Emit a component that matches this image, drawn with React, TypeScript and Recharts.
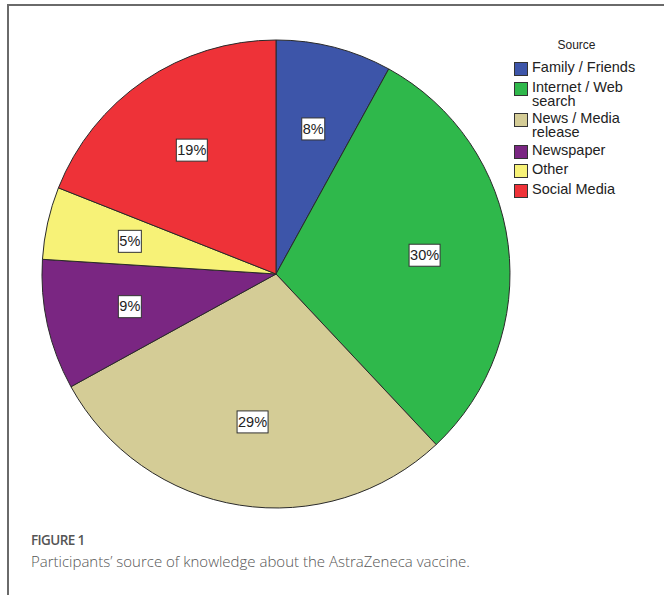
import { Legend, Pie, PieChart } from "recharts";

const SOURCES = [
  "Family / Friends",
  "Internet / Web search",
  "News / Media release",
  "Newspaper",
  "Other",
  "Social Media",
];
const SHARES = [8, 30, 29, 9, 5, 19];
const COLORS = ["#3d55a9", "#2fb84b", "#d4cc96", "#7a2682", "#f7f277", "#ee3238"];

const RAD = Math.PI / 180;

function SliceLabel({ cx, cy, midAngle, outerRadius, value }: any) {
  const r = outerRadius * 0.64;
  const x = cx + r * Math.cos(-midAngle * RAD);
  const y = cy + r * Math.sin(-midAngle * RAD);
  const txt = `${value}%`;
  const w = txt.length * 8 + 7;
  const h = 22;
  return (
    <g>
      <rect x={x - w / 2} y={y - h / 2} width={w} height={h} fill="#fff" stroke="#333" strokeWidth={1} />
      <text
        x={x}
        y={y + 1}
        textAnchor="middle"
        dominantBaseline="middle"
        fontFamily="'Liberation Sans', Arial, sans-serif"
        fontSize={14.5}
        fill="#222"
      >
        {txt}
      </text>
    </g>
  );
}

function SourceLegend() {
  return (
    <div style={{ fontFamily: "'Liberation Sans', Arial, sans-serif", color: "#222" }}>
      <div style={{ fontSize: 12, textAlign: "center", width: 125, marginBottom: 8 }}>Source</div>
      {SOURCES.map((s, i) => (
        <div key={s} style={{ display: "flex", alignItems: "flex-start", marginBottom: 3.5 }}>
          <div
            style={{
              width: 12,
              height: 12,
              background: COLORS[i],
              border: "1px solid #333",
              marginTop: 2,
              marginRight: 4,
              flexShrink: 0,
            }}
          />
          <div style={{ fontSize: 14.5, lineHeight: "14px", width: 112 }}>{s}</div>
        </div>
      ))}
    </div>
  );
}

export default function App() {
  const data = SOURCES.map((name, i) => ({ name, value: SHARES[i], fill: COLORS[i] }));
  return (
    <div style={{ position: "absolute", left: 0, top: 0, width: 664, height: 595, background: "#fff", overflow: "hidden" }}>
      <div
        style={{
          position: "absolute",
          left: 7,
          top: 4,
          width: 700,
          height: 700,
          borderTop: "2px solid #6a6a6a",
          borderLeft: "2px solid #6a6a6a",
        }}
      />
      <div style={{ position: "absolute", left: 0, top: 0 }}>
        <PieChart width={664} height={515} margin={{ top: 0, right: 0, bottom: 0, left: 0 }}>
          <Pie
            data={data}
            dataKey="value"
            nameKey="name"
            cx={276}
            cy={274}
            outerRadius={234}
            startAngle={90}
            endAngle={-270}
            stroke="#2a2a2a"
            strokeWidth={1}
            label={SliceLabel}
            labelLine={false}
            isAnimationActive={false}
          />
          <Legend
            content={<SourceLegend />}
            wrapperStyle={{ position: "absolute", left: 514, top: 38, width: 140 }}
          />
        </PieChart>
      </div>
      <div
        style={{
          position: "absolute",
          left: 31,
          top: 531,
          fontFamily: "'Open Sans', sans-serif",
          color: "#555",
        }}
      >
        <div style={{ fontSize: 13.5, fontWeight: 600, letterSpacing: -0.6 }}>FIGURE 1</div>
        <div style={{ fontSize: 15, fontWeight: 300, marginTop: 2 }}>
          Participants’ source of knowledge about the AstraZeneca vaccine.
        </div>
      </div>
    </div>
  );
}
